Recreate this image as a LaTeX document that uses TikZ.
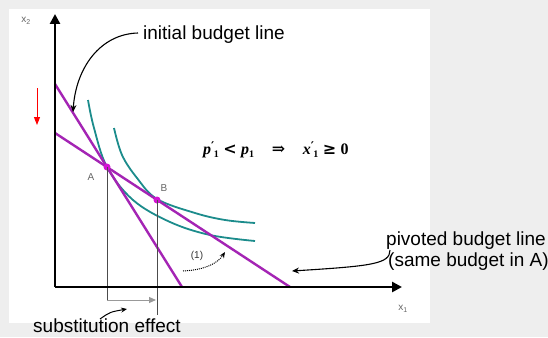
\documentclass[tikz,border=0pt]{standalone}
\usepackage{fontspec}
\setmainfont{Liberation Sans}
\newfontfamily\serifb{Liberation Serif}
\newfontfamily\symf{DejaVu Serif}
\usetikzlibrary{arrows.meta}
\definecolor{bgray}{HTML}{EEEEEE}
\definecolor{mag}{HTML}{A424B4}
\definecolor{dotmag}{HTML}{D414D4}
\definecolor{tealc}{HTML}{1C8C8C}
\newcommand{\vprime}[1]{{\serifb\bfseries\itshape #1}\raisebox{4pt}{\fontsize{12}{12}\selectfont\symf\bfseries ′}\kern-0.5pt\raisebox{-3pt}{\fontsize{10}{10}\selectfont\serifb\bfseries 1}}
\newcommand{\vplain}[1]{{\serifb\bfseries\itshape #1}\raisebox{-3pt}{\fontsize{10}{10}\selectfont\serifb\bfseries 1}}
\begin{document}
\begin{tikzpicture}[x=1pt,y=-1pt,
  bigtxt/.style={font=\fontsize{19}{21}\selectfont, anchor=base west, inner sep=0, text=black},
  formtxt/.style={font=\fontsize{16}{18}\selectfont, anchor=base west, inner sep=0},
  smalltxt/.style={font=\fontsize{10}{11}\selectfont, text=black!60, inner sep=0},
  budget/.style={draw=mag, line width=2.4pt},
  indiff/.style={draw=tealc, line width=1.8pt},
  guide/.style={draw=black!70, line width=1pt},
  axis/.style={line width=2.6pt, -{Triangle[length=10pt,width=10pt]}},
  callout/.style={line width=1.1pt, -{Stealth[length=7pt,width=6pt]}},
  dotpt/.style={circle, fill=dotmag, inner sep=0, minimum size=7pt}
]
\useasboundingbox (0,0) rectangle (548,337);
\fill[bgray] (0,0) rectangle (548,337);
\fill[white] (9,9) rectangle (430,323);

% key points
\coordinate (O) at (55,287);
\coordinate (Ytop) at (55,14);
\coordinate (Xend) at (402,287);
\coordinate (S1) at (55,84);
\coordinate (S2) at (182,287);
\coordinate (P1) at (55,133);
\coordinate (P2) at (290,287);
\coordinate (Afoot) at (107,300);
\coordinate (Bfoot) at (157,315);
\coordinate (Aarr) at (156,300);

% indifference curves
\draw[indiff] plot[smooth, tension=0.6] coordinates {(88,100) (94,128) (107,167) (133,200) (170,222) (210,235) (255,241)};
\draw[indiff] plot[smooth, tension=0.6] coordinates {(114,128) (122,155) (137,178) (157,199) (195,213) (225,220) (255,223)};

% budget lines
\draw[budget] (S1) -- (S2);
\draw[budget] (P1) -- (P2);

% points
\node[dotpt] (A) at (107,167) {};
\node[dotpt] (B) at (157,200) {};

% guides
\draw[guide] (A.center) -- (Afoot);
\draw[guide] (B.center) -- (Bfoot);
\draw[draw=black!40, line width=1pt, -{Triangle[length=7pt,width=6pt]}] (Afoot) -- (Aarr);

% axes
\draw[axis] (O) -- (Ytop);
\draw[axis] (O) -- (Xend);

% small labels
\node[smalltxt] (lx2) at (26,21) {x\textsubscript{2}};
\node[smalltxt] (lx1) at (403,309) {x\textsubscript{1}};
\node[smalltxt] (lA) at (91,177) {A};
\node[smalltxt] (lB) at (164,188) {B};
\node[smalltxt, text=black!80] (lone) at (197,256) {(1)};

% formula
\node[formtxt] (eqn) at (203,154) {\vprime{p} {\symf\bfseries <} \vplain{p}\hspace{1.1em}{\symf\bfseries ⇒}\hspace{1.1em}\vprime{x} {\symf\bfseries ≥} {\serifb\bfseries 0}};

% big labels
\node[bigtxt] (ib) at (143,40) {initial budget line};
\node[bigtxt] (pb) at (386,245) {pivoted budget line};
\node[bigtxt] (sb) at (388,266) {(same budget in A)};
\node[bigtxt] (se) at (33,332) {substitution effect};

% callouts
\coordinate (ibS) at (138,33);
\coordinate (ibE) at (73,112);
\draw[callout] (ibS) .. controls (100,34) and (76,68) .. (ibE);
\coordinate (pbS) at (390,250);
\coordinate (pbE) at (292,271);
\draw[callout] (pbS) .. controls (390,264) and (372,266) .. (pbE);
\coordinate (seS) at (100,319);
\coordinate (seE) at (127,309);
\draw[line width=1pt, -{Stealth[length=6pt,width=5pt]}] (seS) .. controls (110,312) .. (seE);
\coordinate (d1S) at (183,271);
\coordinate (d1E) at (225,252);
\draw[line width=1pt, densely dotted, -{Stealth[length=6pt,width=5pt]}] (d1S) .. controls (205,270) and (218,263) .. (d1E);

% red arrow
\coordinate (rS) at (37,88);
\coordinate (rE) at (37,125);
\draw[red, line width=1pt, -{Triangle[length=8pt,width=6pt]}] (rS) -- (rE);
\end{tikzpicture}
\end{document}
